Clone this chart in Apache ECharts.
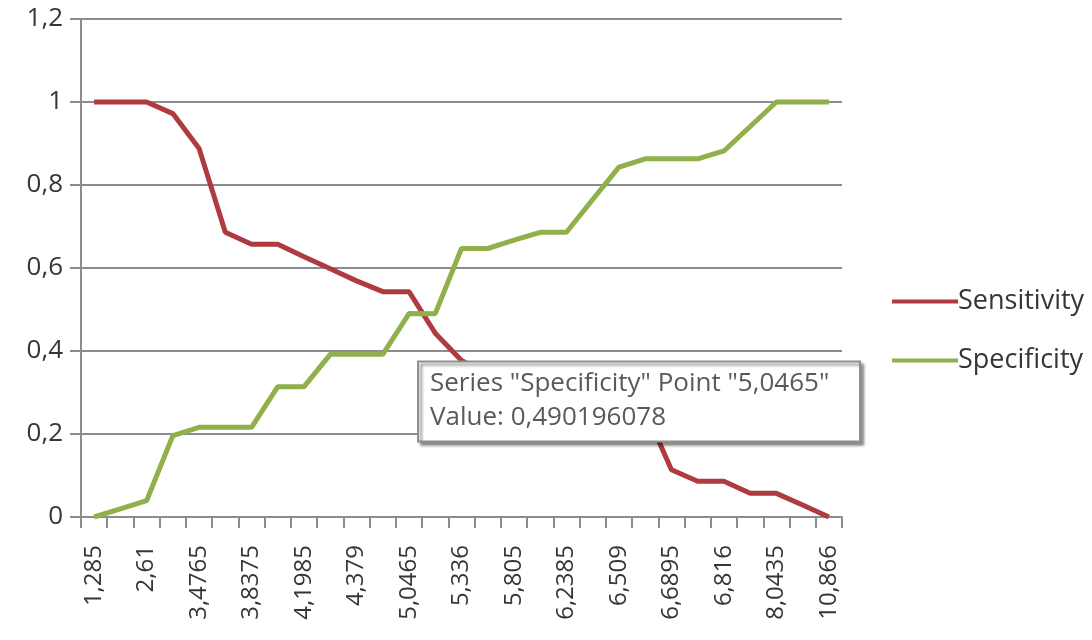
<!DOCTYPE html>
<html><head><meta charset="utf-8">
<script src="https://cdn.jsdelivr.net/npm/echarts@6/dist/echarts.min.js"></script>
<style>html,body{margin:0;padding:0;background:#fff}#c{width:1092px;height:640px}</style>
</head><body><div id="c"></div>
<script>
const categories = ['1,285','2,0475','2,61','3,1','3,4765','3,65','3,8375','4,02','4,1985','4,29','4,379','4,71','5,0465','5,19','5,336','5,57','5,805','6,02','6,2385','6,37','6,509','6,6','6,6895','6,75','6,816','7,43','8,0435','9,45','10,866'];
const sensitivity = [1,1,1,0.972,0.888,0.686,0.657,0.657,0.627,0.598,0.569,0.543,0.543,0.443,0.377,0.343,0.329,0.314,0.3,0.286,0.271,0.257,0.114,0.086,0.086,0.057,0.057,0.029,0];
const specificity = [0,0.0196,0.0392,0.196,0.216,0.216,0.216,0.314,0.314,0.392,0.392,0.392,0.490196078,0.490,0.647,0.647,0.667,0.686,0.686,0.765,0.843,0.863,0.863,0.863,0.882,0.941,1,1,1];
const yTickLabels = ['0','0,2','0,4','0,6','0,8','1','1,2'];
const seriesNames = ['Sensitivity','Specificity'];
const calloutIndex = 12;
const calloutLines = ['Series "Specificity" Point "5,0465"', 'Value: 0,490196078'];

const FONT = '"Open Sans", sans-serif';
const TXT = '#363636';
const GRID = '#8c8c8c';
const RED = '#ae3b3f', GREEN = '#8fb04a';
const chart = echarts.init(document.getElementById('c'), null, {renderer: 'canvas'});
chart.setOption({
  animation: false,
  backgroundColor: '#fff',
  grid: {left: 81, right: 250, top: 19, bottom: 123, containLabel: false},
  legend: {
    orient: 'vertical', left: 887, top: 283, itemGap: 32,
    itemWidth: 66, itemHeight: 4, icon: 'rect',
    textStyle: {fontFamily: FONT, fontSize: 27, color: TXT, padding: [0,0,0,-5]},
    data: seriesNames
  },
  xAxis: {
    type: 'category', data: categories, boundaryGap: true,
    axisLine: {lineStyle: {color: GRID, width: 2}},
    axisTick: {show: true, interval: 0, length: 11, lineStyle: {color: GRID, width: 2}},
    axisLabel: {interval: 1, rotate: 90, margin: 28, fontFamily: FONT, fontSize: 24, color: TXT}
  },
  yAxis: {
    type: 'value', min: 0, max: 1.2, interval: 0.2,
    axisLine: {show: true, lineStyle: {color: GRID, width: 2}},
    axisTick: {show: true, length: 11, lineStyle: {color: GRID, width: 2}},
    splitLine: {lineStyle: {color: GRID, width: 2}},
    axisLabel: {margin: 18, fontFamily: FONT, fontSize: 26, color: TXT,
      formatter: v => yTickLabels[Math.round(v / 0.2)]}
  },
  series: [
    {name: seriesNames[0], type: 'line', data: sensitivity, symbol: 'none',
      lineStyle: {color: RED, width: 5}, itemStyle: {color: RED}},
    {name: seriesNames[1], type: 'line', data: specificity, symbol: 'none',
      lineStyle: {color: GREEN, width: 5}, itemStyle: {color: GREEN}}
  ]
});
const p = chart.convertToPixel({seriesIndex: 1}, [calloutIndex, specificity[calloutIndex]]);
const bx = p[0] + 9, by = p[1] + 48;
chart.setOption({
  graphic: [
    {type: 'rect', shape: {x: bx, y: by, width: 442, height: 80}, z: 100,
      style: {fill: '#fff', stroke: '#8f8f8f', lineWidth: 2,
        shadowColor: 'rgba(0,0,0,0.45)', shadowBlur: 3, shadowOffsetX: 3, shadowOffsetY: 3}},
    {type: 'text', x: bx + 12, y: by + 22, z: 101,
      style: {text: calloutLines[0], fill: '#5a5a5a', font: '26px "Open Sans", sans-serif', textVerticalAlign: 'middle'}},
    {type: 'text', x: bx + 12, y: by + 56, z: 101,
      style: {text: calloutLines[1], fill: '#5a5a5a', font: '26px "Open Sans", sans-serif', textVerticalAlign: 'middle'}}
  ]
});
</script></body></html>
